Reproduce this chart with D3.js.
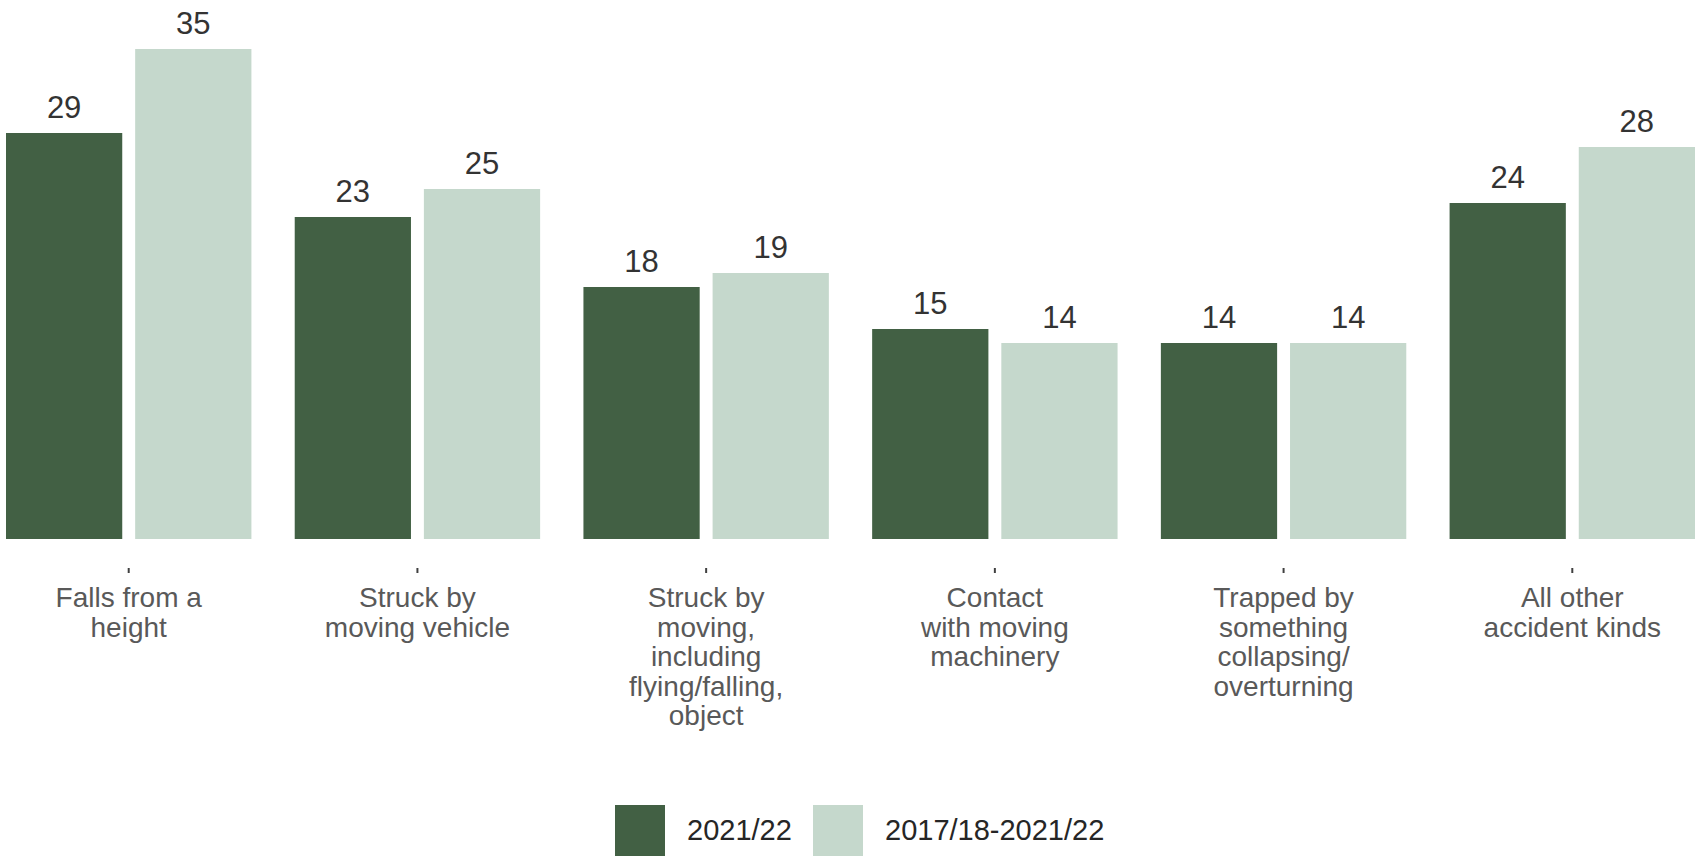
<!DOCTYPE html>
<html>
<head>
<meta charset="utf-8">
<script src="https://cdn.jsdelivr.net/npm/d3@7/dist/d3.min.js"></script>
<style>
  html, body { margin: 0; padding: 0; background: #ffffff; }
  svg { display: block; font-family: "Liberation Sans", Arial, sans-serif; }
</style>
</head>
<body>
<svg id="chart" width="1697" height="856"></svg>
<script>
// Accident kinds (each label split into its display lines)
const categories = [
  ["Falls from a", "height"],
  ["Struck by", "moving vehicle"],
  ["Struck by", "moving,", "including", "flying/falling,", "object"],
  ["Contact", "with moving", "machinery"],
  ["Trapped by", "something", "collapsing/", "overturning"],
  ["All other", "accident kinds"]
];
const seriesNames = ["2021/22", "2017/18-2021/22"];
const values2021 = [29, 23, 18, 15, 14, 24];
const valuesAvg = [35, 25, 19, 14, 14, 28];
const seriesColors = ["#426044", "#c5d8cc"];

const svg = d3.select("#chart");
const keys = categories.map(c => c.join(" "));

const baseY = 539;
const x = d3.scaleBand().domain(keys).range([6, 1695]).paddingInner(0.15).paddingOuter(0);
const xSub = d3.scaleBand().domain(seriesNames).range([0, x.bandwidth()]).paddingInner(0.1);
const y = d3.scaleLinear().domain([0, 38.5]).range([baseY, 0]);

const rows = keys.map((k, i) => ({ key: k, vals: [values2021[i], valuesAvg[i]] }));

const groups = svg.append("g").selectAll("g")
  .data(rows).join("g")
  .attr("transform", d => `translate(${x(d.key)},0)`);

groups.selectAll("rect")
  .data(d => d.vals.map((v, j) => ({ s: seriesNames[j], v, j })))
  .join("rect")
  .attr("x", d => xSub(d.s))
  .attr("y", d => y(d.v))
  .attr("width", xSub.bandwidth())
  .attr("height", d => y(0) - y(d.v))
  .attr("fill", d => seriesColors[d.j]);

groups.selectAll("text.val")
  .data(d => d.vals.map((v, j) => ({ s: seriesNames[j], v })))
  .join("text")
  .attr("class", "val")
  .attr("x", d => xSub(d.s) + xSub.bandwidth() / 2)
  .attr("y", d => y(d.v) - 15)
  .attr("text-anchor", "middle")
  .attr("font-size", 31)
  .attr("fill", "#333333")
  .text(d => d.v);

// Category axis: small ticks with multi-line labels
const axis = svg.append("g")
  .attr("transform", `translate(0,568)`)
  .call(d3.axisBottom(x).tickSizeInner(5).tickSizeOuter(0).tickFormat(""));
axis.select(".domain").remove();
axis.selectAll(".tick line").attr("stroke", "#404040").attr("stroke-width", 2);

const lineGap = 29.5;
svg.append("g").selectAll("text")
  .data(categories).join("text")
  .attr("x", (d, i) => x(keys[i]) + x.bandwidth() / 2)
  .attr("y", 607)
  .attr("text-anchor", "middle")
  .attr("font-size", 28)
  .attr("fill", "#595959")
  .selectAll("tspan")
  .data(d => d).join("tspan")
  .attr("x", function () { return this.parentNode.getAttribute("x"); })
  .attr("dy", (d, i) => i === 0 ? 0 : lineGap)
  .text(d => d);

// Legend
const legendX = [615, 813];
const legend = svg.append("g").selectAll("g")
  .data(seriesNames).join("g")
  .attr("transform", (d, i) => `translate(${legendX[i]},805)`);
legend.append("rect")
  .attr("width", 50).attr("height", 51)
  .attr("fill", (d, i) => seriesColors[i]);
legend.append("text")
  .attr("x", 72).attr("y", 35)
  .attr("font-size", 29)
  .attr("fill", "#262626")
  .text(d => d);
</script>
</body>
</html>
